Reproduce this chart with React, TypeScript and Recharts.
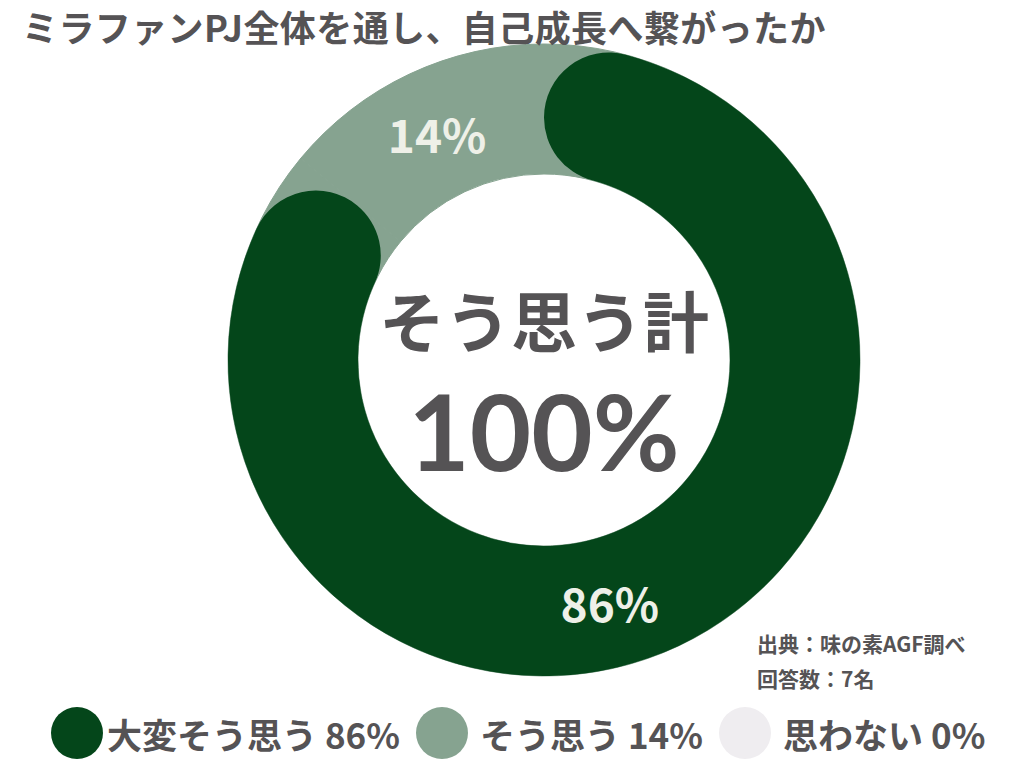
import React from 'react';
import { PieChart, Pie, Cell } from 'recharts';

const categories = ['大変そう思う', 'そう思う', '思わない'];
const shares = [86, 14, 0];
const colors = ['#04461a', '#86a390', '#efedf0'];

const title = 'ミラファンPJ全体を通し、自己成長へ繋がったか';
const centerCaption = 'そう思う計';
const centerValue = '100%';
const sourceLines = ['出典：味の素AGF調べ', '回答数：7名'];

const data = categories.map((name, i) => ({ name, value: shares[i] }));

const FONT = '"Noto Sans CJK JP", "Noto Sans", sans-serif';
const TEXT = '#555355';
const RAD = Math.PI / 180;

const renderLabel = (props: any) => {
  const { cx, cy, midAngle, innerRadius, outerRadius, value } = props;
  if (!value) return null;
  // big slice label sits a bit further along the ring
  const angle = value > 50 ? midAngle - 10 : midAngle;
  const r = (innerRadius + outerRadius) / 2;
  const x = cx + r * Math.cos(-angle * RAD);
  const y = cy + r * Math.sin(-angle * RAD);
  return (
    <text
      x={x}
      y={y}
      fill="#eef0e8"
      textAnchor="middle"
      dominantBaseline="central"
      fontFamily={FONT}
      fontWeight={700}
      fontSize={46}
    >
      {value}%
    </text>
  );
};

export default function App() {
  return (
    <div
      style={{
        position: 'absolute',
        left: 0,
        top: 0,
        width: 1024,
        height: 768,
        background: '#ffffff',
        fontFamily: FONT,
        overflow: 'hidden',
      }}
    >
      <PieChart
        width={1024}
        height={768}
        margin={{ top: 0, right: 0, bottom: 0, left: 0 }}
        style={{ position: 'absolute', left: 0, top: 0 }}
      >
        <Pie
          data={data}
          dataKey="value"
          nameKey="name"
          cx={544}
          cy={360}
          innerRadius={186}
          outerRadius={316}
          startAngle={90}
          endAngle={-270}
          stroke={colors[1]}
          strokeWidth={1}
          isAnimationActive={false}
        >
          {data.map((d) => (
            <Cell key={d.name} fill={colors[1]} />
          ))}
        </Pie>
        <Pie
          data={data}
          dataKey="value"
          nameKey="name"
          cx={544}
          cy={360}
          innerRadius={186}
          outerRadius={316}
          startAngle={90}
          endAngle={-270}
          cornerRadius={65}
          stroke="none"
          labelLine={false}
          label={renderLabel}
          isAnimationActive={false}
        >
          {data.map((d, i) => (
            <Cell key={d.name} fill={i === 0 ? colors[0] : 'transparent'} />
          ))}
        </Pie>
      </PieChart>

      <div
        style={{
          position: 'absolute',
          left: 22,
          top: 4,
          fontSize: 36,
          fontWeight: 700,
          color: TEXT,
          lineHeight: '44px',
          whiteSpace: 'nowrap',
          letterSpacing: 0.4,
        }}
      >
        {title}
      </div>

      <div
        style={{
          position: 'absolute',
          left: 344,
          width: 400,
          top: 278,
          textAlign: 'center',
          color: TEXT,
          fontWeight: 700,
        }}
      >
        <div style={{ fontSize: 66, lineHeight: '80px' }}>{centerCaption}</div>
        <div
          style={{
            fontFamily: 'Lato, "Noto Sans", sans-serif',
            fontSize: 106,
            lineHeight: '128px',
            marginTop: 8,
          }}
        >
          {centerValue}
        </div>
      </div>

      <div
        style={{
          position: 'absolute',
          left: 757,
          top: 626,
          fontSize: 21,
          fontWeight: 700,
          color: TEXT,
          lineHeight: '35px',
        }}
      >
        {sourceLines.map((s) => (
          <div key={s}>{s}</div>
        ))}
      </div>

      <div
        style={{
          position: 'absolute',
          left: 51,
          top: 707,
          height: 52,
          display: 'flex',
          alignItems: 'center',
          gap: 16,
        }}
      >
        {data.map((d, i) => (
          <div key={d.name} style={{ display: 'flex', alignItems: 'center', gap: 4 }}>
            <div style={{ width: 52, height: 52, borderRadius: '50%', background: colors[i] }} />
            <span
              style={{
                fontSize: 35,
                fontWeight: 700,
                color: TEXT,
                whiteSpace: 'nowrap',
                marginLeft: i === 0 ? 0 : 8,
              }}
            >
              {d.name} {d.value}%
            </span>
          </div>
        ))}
      </div>
    </div>
  );
}
